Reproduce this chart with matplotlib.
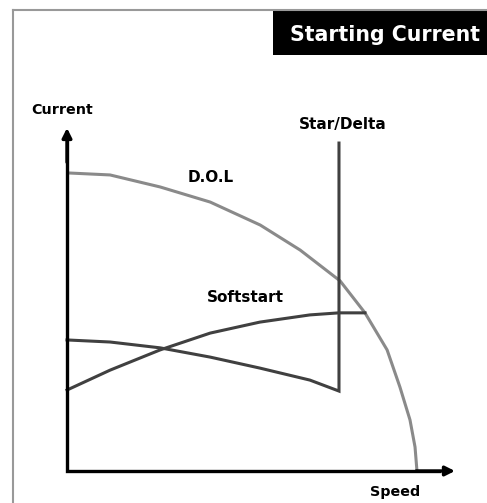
import matplotlib.pyplot as plt
from matplotlib.lines import Line2D
from matplotlib.patches import Rectangle

# Kurven (Drehzahl 0-100, Strom 0-100)
dol_speed = [0, 11.1, 24.0, 36.9, 49.8, 60.1, 70.4, 76.8, 82.5, 85.8, 88.4, 89.7, 90.2]
dol_current = [86.9, 86.3, 82.8, 78.4, 71.7, 64.4, 55.4, 46.1, 35.3, 24.5, 14.9, 7.0, 0]

soft_speed = [0, 11.1, 24.0, 36.9, 49.7, 62.6, 70.1, 76.8]
soft_current = [23.6, 29.4, 35.3, 40.2, 43.4, 45.5, 46.1, 46.1]

star_speed = [0, 11.1, 24.0, 36.9, 49.7, 62.6, 70.1, 70.1]
star_current = [38.2, 37.6, 35.9, 33.2, 30.0, 26.5, 23.3, 95.6]

title = 'Starting Current'
labels = {'D.O.L': (37.1, 85.7), 'Softstart': (46.0, 50.7), 'Star/Delta': (71.0, 100.9)}

fig = plt.figure(figsize=(4.87, 5.03), dpi=100)
ax = fig.add_axes([0, 0, 1, 1])
ax.set_xlim(-17.27, 108.25)
ax.set_ylim(-9.33, 137.3)
ax.axis('off')

# Rahmen und Titelbox
fig.add_artist(Line2D([13 / 487, 13 / 487], [0, 1 - 10 / 503], color='#999999', lw=1.5))
fig.add_artist(Line2D([13 / 487, 1], [1 - 10 / 503, 1 - 10 / 503], color='#999999', lw=1.5))
fig.add_artist(Rectangle((273 / 487, 1 - 55 / 503), 1 - 273 / 487, 45 / 503,
                         facecolor='black', edgecolor='none'))
fig.text(290 / 487, 1 - 35 / 503, title, color='white', fontsize=14.8,
         fontweight='bold', va='center', ha='left')

# Kurven
ax.plot(dol_speed, dol_current, color='#8a8a8a', lw=2.2, solid_capstyle='butt')
ax.plot(soft_speed, soft_current, color='#404040', lw=2.2)
ax.plot(star_speed, star_current, color='#404040', lw=2.2, solid_joinstyle='miter')

# Achsen
ax.plot([0, 0, 96], [96, 0, 0], color='black', lw=2.4, solid_joinstyle='miter')
arrow = dict(arrowstyle='-|>', lw=2.4, color='black', mutation_scale=14, shrinkA=0, shrinkB=0)
ax.annotate('', xy=(0, 100), xytext=(0, 90), arrowprops=arrow)
ax.annotate('', xy=(100, 0), xytext=(90, 0), arrowprops=arrow)

ax.text(-1.3, 105.2, 'Current', fontsize=10.3, fontweight='bold', ha='center', va='center')
ax.text(84.5, -6.1, 'Speed', fontsize=10.3, fontweight='bold', ha='center', va='center')
for name, (x, y) in labels.items():
    ax.text(x, y, name, fontsize=11, fontweight='bold', ha='center', va='center')

fig.savefig('out.png', dpi=100)
